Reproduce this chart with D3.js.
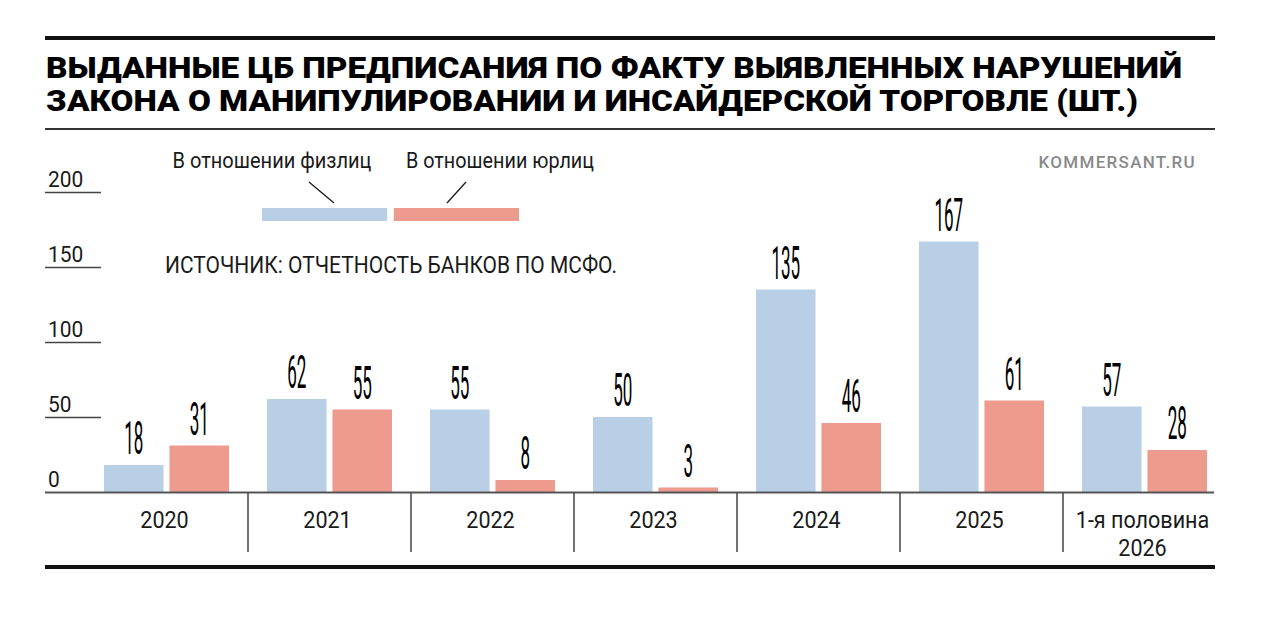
<!DOCTYPE html>
<html lang="ru">
<head>
  <meta charset="UTF-8">
  <title>Предписания ЦБ</title>
  <script src="https://d3js.org/d3.v7.min.js"></script>
  <style>
    html, body { margin: 0; padding: 0; background: #fff; }
    svg { display: block; font-family: Roboto, "Liberation Sans", sans-serif; }
  </style>
</head>
<body>
  <svg id="chart" width="1280" height="618"></svg>
  <script>
    // Data
    const categories = [["2020"], ["2021"], ["2022"], ["2023"], ["2024"], ["2025"], ["1-я половина", "2026"]];
    const seriesNames = ["В отношении физлиц", "В отношении юрлиц"];
    const physical = [18, 62, 55, 50, 135, 167, 57];
    const legal = [31, 55, 8, 3, 46, 61, 28];
    const yTicks = [0, 50, 100, 150, 200];
    const colors = ["#b9cfe6", "#ed9a8f"];

    const svg = d3.select("#chart");
    const ink = "#1a1a1a";

    // helper: text squeezed horizontally (the original uses condensed faces)
    function squeezed(g, x, y, str, size, sx, anchor) {
      return g.append("text")
        .attr("transform", `translate(${x},${y}) scale(${sx},1)`)
        .attr("text-anchor", anchor || "start")
        .attr("font-size", size)
        .attr("fill", ink)
        .text(str);
    }

    // Rules
    svg.append("rect").attr("x", 45).attr("y", 36).attr("width", 1170).attr("height", 4).attr("fill", "#111");
    svg.append("line").attr("x1", 45).attr("x2", 1215).attr("y1", 129).attr("y2", 129)
       .attr("stroke", "#333").attr("stroke-width", 2);
    svg.append("rect").attr("x", 45).attr("y", 565).attr("width", 1170).attr("height", 4).attr("fill", "#111");

    // Title
    const title = [
      ["ВЫДАННЫЕ ЦБ ПРЕДПИСАНИЯ ПО ФАКТУ ВЫЯВЛЕННЫХ НАРУШЕНИЙ", 78, 1136],
      ["ЗАКОНА О МАНИПУЛИРОВАНИИ И ИНСАЙДЕРСКОЙ ТОРГОВЛЕ (ШТ.)", 111, 1092]
    ];
    svg.append("g").selectAll("text").data(title).join("text")
       .attr("x", 46).attr("y", d => d[1])
       .attr("font-size", 29.5).attr("font-weight", 900).attr("fill", "#000")
       .attr("textLength", d => d[2]).attr("lengthAdjust", "spacingAndGlyphs")
       .text(d => d[0]);

    // Source mark
    svg.append("text").attr("x", 1196).attr("y", 168).attr("text-anchor", "end")
       .attr("font-size", 17).attr("font-weight", 500).attr("fill", "#8a8a8a").attr("letter-spacing", 1.3)
       .text("KOMMERSANT.RU");

    // Scales
    const y = d3.scaleLinear().domain([0, 200]).range([492, 192]);
    const x0 = d3.scaleBand().domain(d3.range(categories.length)).range([85, 85 + 163 * categories.length]);
    const x1 = d3.scaleBand().domain([0, 1]).range([19, 144]).paddingInner(0.09);

    // Y ticks: label with short underline
    const yg = svg.append("g");
    yTicks.forEach(t => {
      squeezed(yg, 48, y(t) - 5, t, 22.5, 0.93);
      if (t > 0) {
        yg.append("line").attr("x1", 45).attr("x2", 101).attr("y1", y(t) + 0.5).attr("y2", y(t) + 0.5)
          .attr("stroke", "#444").attr("stroke-width", 1.5);
      }
    });

    // Bars
    const rows = categories.map((c, i) => ({ i, vals: [physical[i], legal[i]] }));
    const groups = svg.append("g").selectAll("g").data(rows).join("g")
       .attr("transform", d => `translate(${x0(d.i)},0)`);
    groups.selectAll("rect").data(d => d.vals.map((v, k) => ({ v, k }))).join("rect")
       .attr("x", d => x1(d.k)).attr("width", x1.bandwidth())
       .attr("y", d => y(d.v)).attr("height", d => y(0) - y(d.v))
       .attr("fill", d => colors[d.k]);
    groups.each(function (d) {
      const g = d3.select(this);
      d.vals.forEach((v, k) => {
        squeezed(g, x1(k) + x1.bandwidth() / 2, y(v) - 11, v, 46, 0.37, "middle")
          .attr("fill", "#000");
      });
    });

    // X axis
    svg.append("line").attr("x1", 45).attr("x2", 1214).attr("y1", 492.5).attr("y2", 492.5)
       .attr("stroke", "#555").attr("stroke-width", 2);
    const xg = svg.append("g");
    categories.forEach((c, i) => {
      if (i > 0) {
        xg.append("line").attr("x1", x0(i)).attr("x2", x0(i)).attr("y1", 493).attr("y2", 552)
          .attr("stroke", "#444").attr("stroke-width", 1.5);
      }
      c.forEach((s, j) => squeezed(xg, x0(i) + x0.bandwidth() / 2 - 2, 528 + j * 28, s, 24.5, 0.88, "middle"));
    });

    // Legend
    const legendText = [[272, 168, 199], [500, 168, 188]];
    seriesNames.forEach((n, k) => {
      svg.append("text").attr("x", legendText[k][0]).attr("y", legendText[k][1])
         .attr("text-anchor", "middle").attr("font-size", 22).attr("fill", ink)
         .attr("textLength", legendText[k][2]).attr("lengthAdjust", "spacingAndGlyphs")
         .text(n);
    });
    const sw = d3.scaleBand().domain([0, 1]).range([262, 519]).paddingInner(0.05);
    svg.append("g").selectAll("rect").data([0, 1]).join("rect")
       .attr("x", d => sw(d)).attr("y", 208).attr("width", sw.bandwidth()).attr("height", 13)
       .attr("fill", d => colors[d]);
    const leaders = [[309, 182, 334, 203], [466, 182, 447, 203]];
    svg.append("g").selectAll("line").data(leaders).join("line")
       .attr("x1", d => d[0]).attr("y1", d => d[1]).attr("x2", d => d[2]).attr("y2", d => d[3])
       .attr("stroke", ink).attr("stroke-width", 1.3);

    // Source
    svg.append("text").attr("x", 165).attr("y", 273).attr("font-size", 23).attr("fill", ink)
       .attr("textLength", 452).attr("lengthAdjust", "spacingAndGlyphs")
       .text("ИСТОЧНИК: ОТЧЕТНОСТЬ БАНКОВ ПО МСФО.");
  </script>
</body>
</html>
